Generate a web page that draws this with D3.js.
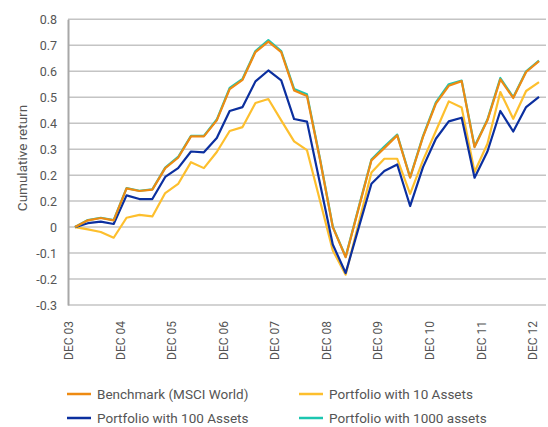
<!DOCTYPE html>
<html>
<head>
<meta charset="utf-8">
<script src="https://cdn.jsdelivr.net/npm/d3@7"></script>
<style>
  body { margin: 0; background: #fff; }
  text { font-family: Roboto, "Noto Sans", sans-serif; fill: #555; }
</style>
</head>
<body>
<div id="chart"></div>
<script>
// quarterly points, Dec 2003 to Dec 2012
var quarters = [];
var years = ['03','04','05','06','07','08','09','10','11','12'];
years.forEach(function(yr, i){
  if (i === 0) { quarters.push('DEC ' + yr); return; }
  ['MAR','JUN','SEP','DEC'].forEach(function(m){ quarters.push(m + ' ' + yr); });
});

var benchmark = [0, 0.026, 0.035, 0.026, 0.149, 0.139, 0.144, 0.227, 0.267, 0.349,
  0.349, 0.411, 0.531, 0.567, 0.674, 0.714, 0.674, 0.526, 0.505, 0.262,
  0.0, -0.116, 0.071, 0.257, 0.304, 0.353, 0.19, 0.347, 0.475, 0.544,
  0.562, 0.308, 0.411, 0.569, 0.497, 0.597, 0.639];
var assets10 = [0, -0.009, -0.019, -0.041, 0.036, 0.047, 0.041, 0.131, 0.166, 0.25,
  0.227, 0.289, 0.37, 0.385, 0.478, 0.493, 0.411, 0.33, 0.296, 0.103,
  -0.09, -0.183, 0.013, 0.21, 0.263, 0.263, 0.128, 0.257, 0.37, 0.484,
  0.46, 0.212, 0.321, 0.52, 0.417, 0.524, 0.558];
var assets100 = [0, 0.015, 0.021, 0.012, 0.122, 0.108, 0.108, 0.193, 0.227, 0.291,
  0.288, 0.343, 0.447, 0.462, 0.561, 0.603, 0.565, 0.416, 0.406, 0.17,
  -0.067, -0.177, -0.004, 0.167, 0.216, 0.241, 0.081, 0.231, 0.34, 0.407,
  0.421, 0.19, 0.291, 0.447, 0.368, 0.462, 0.501];
var assets1000 = [0, 0.027, 0.036, 0.027, 0.15, 0.14, 0.145, 0.229, 0.27, 0.351,
  0.351, 0.414, 0.536, 0.571, 0.678, 0.72, 0.678, 0.532, 0.511, 0.265,
  0.002, -0.114, 0.074, 0.26, 0.31, 0.356, 0.192, 0.35, 0.48, 0.55,
  0.564, 0.31, 0.414, 0.574, 0.5, 0.6, 0.641];

var yTicks = [0.8, 0.7, 0.6, 0.5, 0.4, 0.3, 0.2, 0.1, 0, -0.1, -0.2, -0.3];
var yTickLabels = ['0.8','0.7','0.6','0.5','0.4','0.3','0.2','0.2','0','-0.1','-0.2','-0.3'];

(function lineChart(){

  var series = [
    {name: 'Portfolio with 10 Assets', values: assets10, color: '#fdbf2d'},
    {name: 'Portfolio with 100 Assets', values: assets100, color: '#0b2f9f'},
    {name: 'Portfolio with 1000 assets', values: assets1000, color: '#1cc6b0'},
    {name: 'Benchmark (MSCI World)', values: benchmark, color: '#ee8a12'}
  ];
  var legendOrder = [3, 0, 1, 2];

  var width = 548, height = 427;
  var plot = {left: 68, right: 546, top: 19.3, bottom: 305};

  var x = d3.scalePoint().domain(quarters).range([75, 539]);
  var y = d3.scaleLinear().domain([-0.3, 0.8]).range([plot.bottom, plot.top]);

  var svg = d3.select('#chart').append('svg')
    .attr('width', width)
    .attr('height', height);

  // gridlines
  svg.append('g')
    .selectAll('line')
    .data(yTicks)
    .enter()
    .append('line')
    .attr('x1', plot.left).attr('x2', plot.right)
    .attr('y1', function(d){ return y(d); })
    .attr('y2', function(d){ return y(d); })
    .attr('stroke', '#c4c4c4')
    .attr('stroke-width', 1.5);

  // y axis
  var yAxis = d3.axisLeft(y).tickValues(yTicks)
    .tickSize(0).tickPadding(11)
    .tickFormat(function(d, i){ return yTickLabels[i]; });
  var gy = svg.append('g')
    .attr('transform', 'translate(' + plot.left + ',0)')
    .call(yAxis);
  gy.select('.domain').attr('stroke', '#a8a8a8').attr('stroke-width', 2);
  gy.selectAll('text').style('font-size', '12.5px').attr('fill', '#555');

  // x axis
  var xAxis = d3.axisBottom(x)
    .tickValues(quarters.filter(function(q){ return q.indexOf('DEC') === 0; }))
    .tickSize(0);
  var gx = svg.append('g')
    .attr('transform', 'translate(0,' + plot.bottom + ')')
    .call(xAxis);
  gx.select('.domain').remove();
  gx.selectAll('text')
    .style('font-size', '12px')
    .style('text-anchor', 'end')
    .attr('fill', '#555')
    .attr('dx', '-16px')
    .attr('dy', '-0.2em')
    .attr('y', 0)
    .attr('transform', 'rotate(-90)');

  // y title
  svg.append('text')
    .text('Cumulative return')
    .attr('transform', 'translate(27,158) rotate(-90)')
    .style('text-anchor', 'middle')
    .style('font-size', '13.5px')
    .attr('fill', '#444');

  // lines
  var line = d3.line()
    .x(function(d, i){ return x(quarters[i]); })
    .y(function(d){ return y(d); });

  svg.selectAll('.series')
    .data(series)
    .enter()
    .append('path')
    .attr('class', 'series')
    .attr('fill', 'none')
    .attr('stroke', function(d){ return d.color; })
    .attr('stroke-width', 2.2)
    .attr('stroke-linejoin', 'round')
    .attr('d', function(d){ return line(d.values); });

  // legend
  var legend = svg.append('g');
  legendOrder.forEach(function(si, k){
    var s = series[si];
    var lx = k % 2 === 0 ? 67 : 299;
    var ly = k < 2 ? 394 : 418;
    legend.append('line')
      .attr('x1', lx).attr('x2', lx + 24)
      .attr('y1', ly).attr('y2', ly)
      .attr('stroke', s.color)
      .attr('stroke-width', 2.5);
    legend.append('text')
      .text(s.name)
      .attr('x', lx + 30)
      .attr('y', ly)
      .attr('dy', '0.35em')
      .style('font-size', '13.5px')
      .attr('fill', '#555');
  });

})();
</script>
</body>
</html>
